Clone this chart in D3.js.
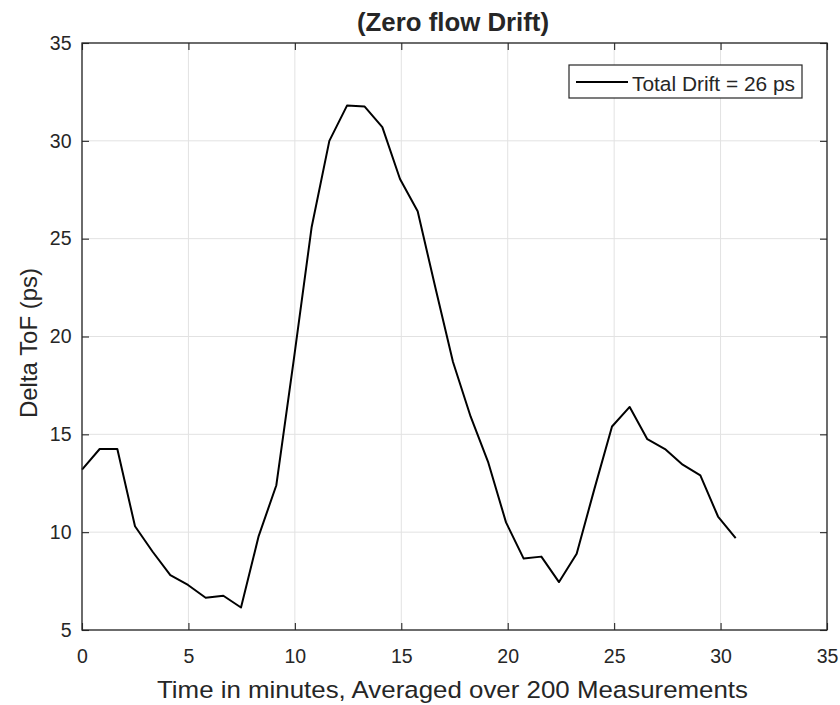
<!DOCTYPE html>
<html>
<head>
<meta charset="utf-8">
<script src="https://cdn.jsdelivr.net/npm/d3@7"></script>
<style>
  html, body { margin: 0; padding: 0; background: #fff; }
  svg { display: block; }
  text { font-family: "Liberation Sans", Arial, Helvetica, sans-serif; fill: #262626; }
</style>
</head>
<body>
<svg id="chart" width="840" height="705"></svg>
<script>
// ---- data ----
const timeMinutes = [0, 0.83, 1.66, 2.49, 3.32, 4.15, 4.98, 5.81, 6.64, 7.47,
  8.30, 9.13, 9.96, 10.79, 11.62, 12.45, 13.28, 14.11, 14.94, 15.77,
  16.60, 17.43, 18.26, 19.09, 19.92, 20.75, 21.58, 22.41, 23.24, 24.07,
  24.90, 25.73, 26.56, 27.39, 28.22, 29.05, 29.88, 30.71];
const deltaToF = [13.2, 14.25, 14.25, 10.3, 9.0, 7.8, 7.3, 6.65, 6.75, 6.15,
  9.8, 12.4, 18.9, 25.6, 30.0, 31.8, 31.75, 30.7, 28.05, 26.4,
  22.5, 18.7, 15.9, 13.55, 10.5, 8.65, 8.75, 7.45, 8.9, 12.2,
  15.4, 16.4, 14.75, 14.25, 13.45, 12.9, 10.8, 9.7];
const xTicks = [0, 5, 10, 15, 20, 25, 30, 35];
const yTicks = [5, 10, 15, 20, 25, 30, 35];
const titleText = "(Zero flow Drift)";
const xLabelText = "Time in minutes, Averaged over 200 Measurements";
const yLabelText = "Delta ToF (ps)";
const legendText = "Total Drift = 26 ps";

(function () {
// ---- layout ----
const pl = 82, pr = 827, pt = 43, pb = 630;
const axisColor = "#262626", gridColor = "#e2e2e2";

const svg = d3.select("#chart");
const x = d3.scaleLinear().domain([0, 35]).range([pl, pr]);
const y = d3.scaleLinear().domain([5, 35]).range([pb, pt]);

// grid
const grid = svg.append("g");
grid.selectAll("line.gx").data(xTicks).join("line").attr("class", "gx")
  .attr("x1", d => x(d)).attr("x2", d => x(d))
  .attr("y1", pt).attr("y2", pb)
  .attr("stroke", gridColor).attr("stroke-width", 1);
grid.selectAll("line.gy").data(yTicks).join("line").attr("class", "gy")
  .attr("y1", d => y(d)).attr("y2", d => y(d))
  .attr("x1", pl).attr("x2", pr)
  .attr("stroke", gridColor).attr("stroke-width", 1);

// data line
const line = d3.line().x((d, i) => x(timeMinutes[i])).y(d => y(d));
svg.append("path").datum(deltaToF)
  .attr("d", line).attr("fill", "none")
  .attr("stroke", "#000").attr("stroke-width", 2)
  .attr("stroke-linejoin", "round");

// axes
function styleAxis(g, fontSize) {
  g.select(".domain").remove();
  g.selectAll(".tick line").attr("stroke", axisColor).attr("stroke-width", 1.1);
  g.selectAll(".tick text").attr("fill", axisColor).style("font-size", fontSize + "px")
    .style("font-family", '"Liberation Sans", Arial, sans-serif');
}
const gx = svg.append("g").attr("transform", `translate(0,${pb})`)
  .call(d3.axisBottom(x).tickValues(xTicks).tickSize(-7).tickPadding(19).tickFormat(d3.format("d")));
styleAxis(gx, 19.5);
const gxt = svg.append("g").attr("transform", `translate(0,${pt})`)
  .call(d3.axisTop(x).tickValues(xTicks).tickSize(-7).tickFormat(""));
styleAxis(gxt, 19.5);
const gy = svg.append("g").attr("transform", `translate(${pl},0)`)
  .call(d3.axisLeft(y).tickValues(yTicks).tickSize(-7).tickPadding(10.5).tickFormat(d3.format("d")));
styleAxis(gy, 19.5);
const gyr = svg.append("g").attr("transform", `translate(${pr},0)`)
  .call(d3.axisRight(y).tickValues(yTicks).tickSize(-7).tickFormat(""));
styleAxis(gyr, 19.5);

// box
svg.append("rect").attr("x", pl).attr("y", pt)
  .attr("width", pr - pl).attr("height", pb - pt)
  .attr("fill", "none").attr("stroke", axisColor).attr("stroke-width", 1.3);

// title & labels
svg.append("text").attr("x", 453).attr("y", 31)
  .attr("text-anchor", "middle").style("font-size", "25px").style("font-weight", "bold")
  .attr("textLength", 192).attr("lengthAdjust", "spacingAndGlyphs")
  .text(titleText);
svg.append("text").attr("x", 452.5).attr("y", 698)
  .attr("text-anchor", "middle").style("font-size", "24.5px")
  .attr("textLength", 591).attr("lengthAdjust", "spacingAndGlyphs")
  .text(xLabelText);
svg.append("text").attr("transform", "translate(37,343) rotate(-90)")
  .attr("text-anchor", "middle").style("font-size", "24px")
  .attr("textLength", 150).attr("lengthAdjust", "spacingAndGlyphs")
  .text(yLabelText);

// legend
const lg = svg.append("g");
lg.append("rect").attr("x", 569).attr("y", 65).attr("width", 233).attr("height", 33)
  .attr("fill", "#fff").attr("stroke", axisColor).attr("stroke-width", 1.2);
lg.append("line").attr("x1", 576).attr("x2", 628).attr("y1", 82).attr("y2", 82)
  .attr("stroke", "#000").attr("stroke-width", 2);
lg.append("text").attr("x", 632).attr("y", 91).style("font-size", "20.5px")
  .attr("textLength", 163).attr("lengthAdjust", "spacingAndGlyphs")
  .text(legendText);
})();
</script>
</body>
</html>
